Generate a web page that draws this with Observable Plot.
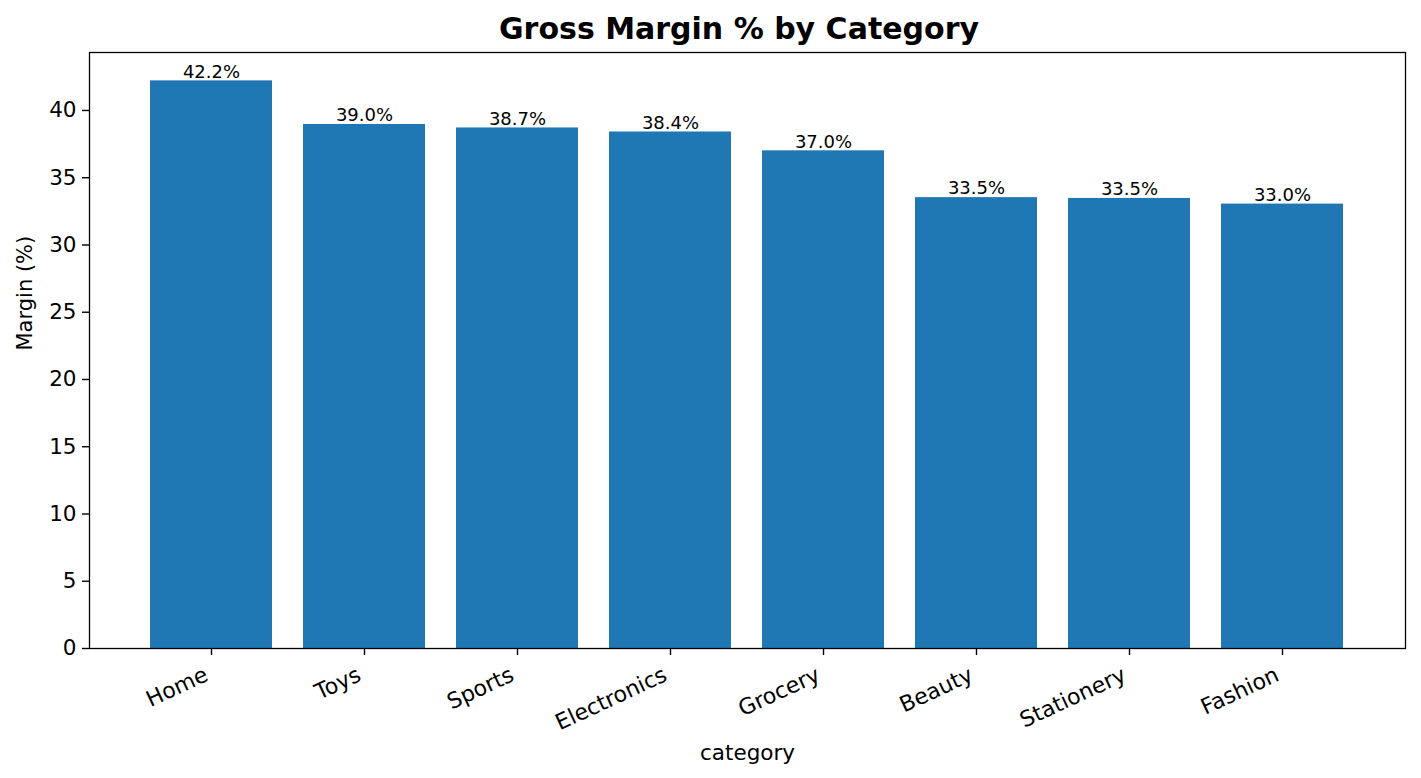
<!DOCTYPE html>
<html>
<head>
<meta charset="utf-8">
<script src="https://cdn.jsdelivr.net/npm/d3@7"></script>
<script src="https://cdn.jsdelivr.net/npm/@observablehq/plot@0.6"></script>
<style>
  html, body { margin: 0; padding: 0; background: #fff; }
  #wrap { position: relative; width: 1421px; height: 778px; font-family: "DejaVu Sans", sans-serif; }
  #title { position: absolute; left: 81px; width: 1316px; top: 10px; text-align: center; font-size: 30px; font-weight: bold; color: #000; line-height: 38px; }
  #chart { position: absolute; left: 0; top: 0; }
</style>
</head>
<body>
<div id="wrap">
  <div id="chart"></div>
  <div id="title">Gross Margin % by Category</div>
</div>
<script>
const categories = ["Home", "Toys", "Sports", "Electronics", "Grocery", "Beauty", "Stationery", "Fashion"];
const margins = [42.2, 38.96, 38.7, 38.4, 37.0, 33.52, 33.46, 33.04];
const yTicks = [0, 5, 10, 15, 20, 25, 30, 35, 40];

const data = categories.map((c, i) => ({category: c, margin: margins[i], label: margins[i].toFixed(1) + "%"}));
const yMax = d3.max(margins) * 1.05;

const chart = Plot.plot({
  width: 1421,
  height: 778,
  marginTop: 52,
  marginBottom: 130,
  marginLeft: 89,
  marginRight: 16,
  style: {fontFamily: "DejaVu Sans, sans-serif", fontSize: "22px", color: "#000", background: "#fff"},
  x: {domain: categories, paddingInner: 0.2, paddingOuter: 0.39, label: null},
  y: {domain: [0, yMax], label: null},
  marks: [
    Plot.barY(data, {x: "category", y: "margin", fill: "#1f77b4"}),
    Plot.text(data, {x: "category", y: "margin", text: "label", dy: -9, fontSize: 18, fill: "#000"}),
    Plot.frame({stroke: "#000", strokeWidth: 1.3}),
    Plot.axisY({ticks: yTicks, tickSize: 7, tickPadding: 6, label: null, fontSize: 21.5, strokeWidth: 1.4}),
    Plot.axisX({tickSize: 7, label: null, text: null, strokeWidth: 1.4}),
    Plot.axisX({tickSize: 0, tickRotate: -25, tickPadding: 15, dx: -5, dy: 10, label: null, fontSize: 22}),
    Plot.text(["Margin (%)"], {frameAnchor: "left", dx: -64, rotate: -90, fontSize: 21, fill: "#000"}),
    Plot.text(["category"], {frameAnchor: "bottom", dy: 111, fontSize: 21.5, fill: "#000"})
  ]
});
document.getElementById("chart").appendChild(chart);
</script>
</body>
</html>
